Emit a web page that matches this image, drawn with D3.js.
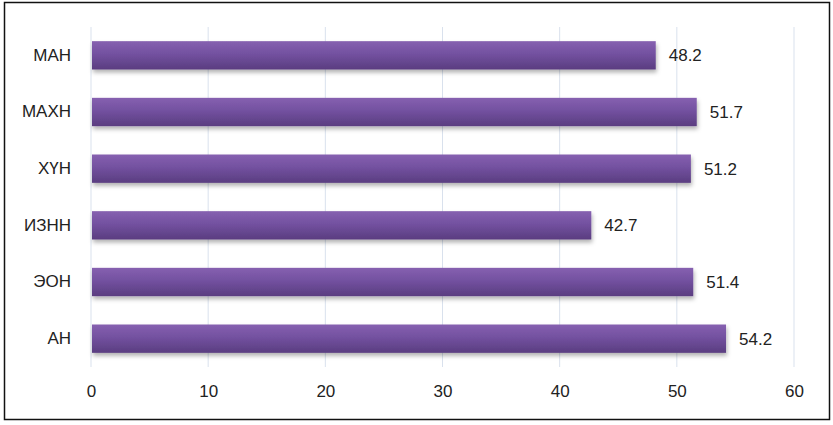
<!DOCTYPE html>
<html>
<head>
<meta charset="utf-8">
<script src="https://cdn.jsdelivr.net/npm/d3@7"></script>
<style>
  body { margin: 0; background: #fff; }
  svg text { font-family: "Liberation Sans", Arial, sans-serif; fill: #222; }
</style>
</head>
<body>
<div id="container"></div>
<script>
// chart data
const categories = ["МАН", "МАХН", "ХҮН", "ИЗНН", "ЭОН", "АН"];
const values = [48.2, 51.7, 51.2, 42.7, 51.4, 54.2];
const xTicks = [0, 10, 20, 30, 40, 50, 60];

const W = 833, H = 425;
const margin = { top: 27, right: 39, bottom: 58, left: 91 };
const width = W - margin.left - margin.right;
const height = H - margin.top - margin.bottom;

const root = d3.select('#container').append('svg')
    .attr('width', W)
    .attr('height', H);

// gradient + shadow for bars
const defs = root.append('defs');
const grad = defs.append('linearGradient')
    .attr('id', 'barGrad')
    .attr('x1', 0).attr('y1', 0).attr('x2', 0).attr('y2', 1);
grad.append('stop').attr('offset', '0%').attr('stop-color', '#8660b0');
grad.append('stop').attr('offset', '45%').attr('stop-color', '#7351a0');
grad.append('stop').attr('offset', '100%').attr('stop-color', '#5a3d80');

const shadow = defs.append('filter').attr('id', 'shadow')
    .attr('x', '-5%').attr('y', '-20%').attr('width', '110%').attr('height', '160%');
shadow.append('feDropShadow')
    .attr('dx', 1).attr('dy', 3).attr('stdDeviation', 2)
    .attr('flood-color', '#000').attr('flood-opacity', 0.3);

// outer frame
root.append('rect')
    .attr('x', 4.5).attr('y', 2.5)
    .attr('width', 825).attr('height', 417)
    .attr('fill', 'none')
    .attr('stroke', '#111')
    .attr('stroke-width', 1.5);

const svg = root.append('g')
    .attr('transform', `translate(${margin.left},${margin.top})`);

const xScale = d3.scaleLinear()
    .domain([0, 60])
    .range([0, width]);

const yScale = d3.scaleBand()
    .domain(categories)
    .range([0, height])
    .paddingInner(0.5)
    .paddingOuter(0.25);

// vertical gridlines
svg.append('g')
    .selectAll('line')
    .data(xTicks)
    .enter()
    .append('line')
    .attr('x1', d => xScale(d))
    .attr('x2', d => xScale(d))
    .attr('y1', 0)
    .attr('y2', height)
    .attr('stroke', '#d9e1ed')
    .attr('stroke-width', 1);

// bars
svg.selectAll('rect.bar')
    .data(values)
    .enter()
    .append('rect')
    .attr('class', 'bar')
    .attr('x', xScale(0) + 1)
    .attr('y', (d, i) => yScale(categories[i]))
    .attr('width', d => xScale(d) - xScale(0) - 1)
    .attr('height', yScale.bandwidth())
    .attr('fill', 'url(#barGrad)')
    .attr('filter', 'url(#shadow)');

// value labels
svg.selectAll('text.val')
    .data(values)
    .enter()
    .append('text')
    .attr('class', 'val')
    .attr('x', d => xScale(d) + 13)
    .attr('y', (d, i) => yScale(categories[i]) + yScale.bandwidth() / 2)
    .attr('dy', '0.35em')
    .style('font-size', '17px')
    .text(d => d.toFixed(1));

// y axis (labels only)
svg.append('g')
    .call(d3.axisLeft(yScale).tickSize(0).tickPadding(20))
    .call(g => g.select('.domain').remove())
    .selectAll('text')
    .style('font-size', '17px')
    .style('fill', '#222');

// x axis (labels only)
svg.append('g')
    .attr('transform', `translate(0,${height})`)
    .call(d3.axisBottom(xScale).tickValues(xTicks).tickSize(0).tickPadding(18))
    .call(g => g.select('.domain').remove())
    .selectAll('text')
    .style('font-size', '17px')
    .style('fill', '#222');
</script>
</body>
</html>
